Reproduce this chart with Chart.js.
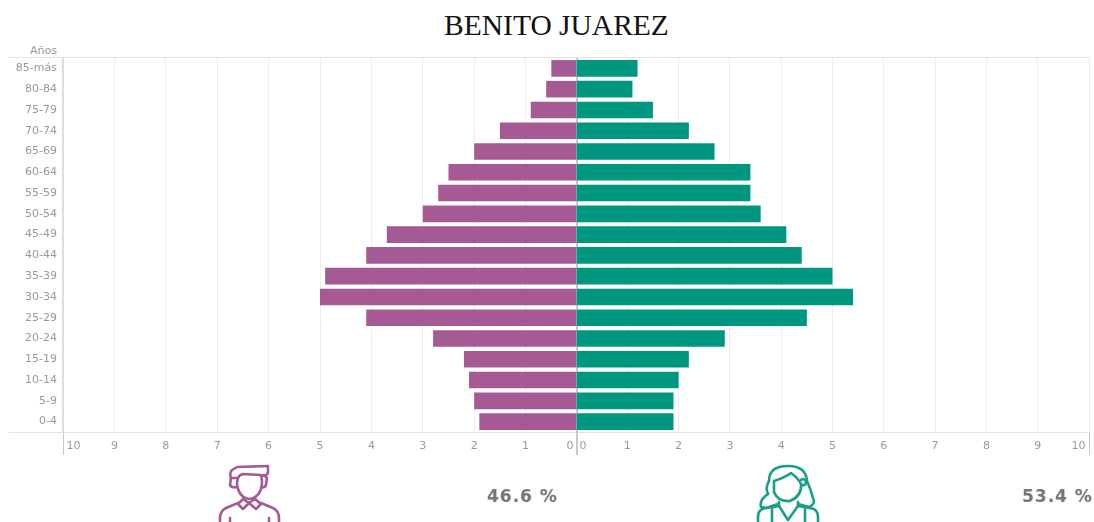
<!DOCTYPE html>
<html lang="es">
<head>
<meta charset="utf-8">
<title>BENITO JUAREZ</title>
<script src="https://cdn.jsdelivr.net/npm/chart.js@4"></script>
<style>
    html, body { margin: 0; width: 1094px; height: 522px; overflow: hidden; background: #fff; }
    .abs { position: absolute; }
    #title { left: 0; top: 9px; width: 1113px; text-align: center; font: 29.5px "Liberation Serif", serif; color: #111; }
    #years { left: 0; top: 44px; width: 57px; text-align: right; font: 11px "DejaVu Sans", sans-serif; color: #999; }
    .rule { left: 9px; width: 1081px; height: 1px; background: #e3e3e3; }
    .pct { top: 486px; font: bold 17px "DejaVu Sans", sans-serif; letter-spacing: 1px; color: #777; }
</style>
</head>
<body>
<div class="abs" id="title">BENITO JUAREZ</div>
<div class="abs" id="years">Años</div>
<div class="abs rule" style="top:57px"></div>
<div class="abs rule" style="top:432px"></div>

<div class="abs" style="left:0;top:58px;width:578px;height:402px"><canvas id="menChart"></canvas></div>
<div class="abs" style="left:576px;top:58px;width:518px;height:402px"><canvas id="womenChart"></canvas></div>

<!-- iconos hombre / mujer -->
<svg class="abs" style="left:210px;top:460px" width="80" height="62" viewBox="0 0 80 62" fill="none" stroke="#a55a94" stroke-width="2.6" stroke-linejoin="round" stroke-linecap="round">
    <path d="M28 18 L21 18 Q19 13 22 10 L27 7 L58 6 L58 13 Q56 17 50 15 L33 14 Q29 15 28 18 Z"/>
    <path d="M28 18 Q26 24 28 29 Q31 38 39 39 Q48 38 51 29 Q53 23 51 15"/>
    <path d="M21 18 L20 25 Q21 28 27 27 M54 15 L57 18 L56 25 Q55 28 51 27"/>
    <path d="M39 43 L33 39 L28 44 L33 49 Z M39 43 L45 39 L51 44 L46 49 Z"/>
    <path d="M28 43 L16 48 Q10 51 10 58 L10 70 M51 43 L63 48 Q69 51 69 58 L69 70 M20 58 L20 70 M59 58 L59 70"/>
</svg>
<svg class="abs" style="left:748px;top:460px" width="80" height="62" viewBox="0 0 80 62" fill="none" stroke="#1a9e88" stroke-width="2.6" stroke-linejoin="round" stroke-linecap="round">
    <path d="M20 34 Q17 28 21 21 Q21 6 40 6 Q58 6 59 21 Q63 30 65 38 Q68 44 61 47 L50 44"/>
    <path d="M20 34 Q11 40 13 47 L18 48 L30 44"/>
    <path d="M26 21 Q36 18 43 13 Q50 18 53 24 Q54 36 42 41 Q30 42 26 32 Z"/>
    <path d="M53 20 a3 3 0 1 1 1 5"/>
    <path d="M31 42 L31 46 L18 48 Q10 49 10 57 L10 70 M50 42 L50 46 L62 48 Q70 49 70 57 L70 70"/>
    <path d="M31 46 L40 60 L50 46 M24 48 L24 70 M57 48 L57 70"/>
</svg>

<div class="abs pct" style="left:487px">46.6 %</div>
<div class="abs pct" style="left:1022px">53.4 %</div>

<script>
const ageGroups = ["85-más", "80-84", "75-79", "70-74", "65-69", "60-64", "55-59", "50-54", "45-49",
    "40-44", "35-39", "30-34", "25-29", "20-24", "15-19", "10-14", "5-9", "0-4"];
const menValues = [0.5, 0.6, 0.9, 1.5, 2.0, 2.5, 2.7, 3.0, 3.7, 4.1, 4.9, 5.0, 4.1, 2.8, 2.2, 2.1, 2.0, 1.9];
const womenValues = [1.2, 1.1, 1.5, 2.2, 2.7, 3.4, 3.4, 3.6, 4.1, 4.4, 5.0, 5.4, 4.5, 2.9, 2.2, 2.0, 1.9, 1.9];
const axisMax = 10;

const tickFont = { family: "DejaVu Sans", size: 11 };
const NBSP = "\u00a0";

// Etiquetas de los extremos separadas de la linea del eje
function tickLabel(v, isLeft) {
    const n = Math.abs(v);
    if (n === 0) return isLeft ? n + NBSP : NBSP + n;
    if (n === axisMax) return isLeft ? NBSP + n : n + NBSP;
    return String(n);
}

// Eje horizontal comun: solo 0 y 10 llevan marca larga
function xAxis(isLeft) {
    return {
        min: isLeft ? -axisMax : 0,
        max: isLeft ? 0 : axisMax,
        border: { display: false },
        grid: {
            color: c => c.tick.value === 0 ? "#c8c8c8" : "#ededed",
            tickColor: c => (c.tick.value === 0 || Math.abs(c.tick.value) === axisMax) ? "#c8c8c8" : "transparent",
            tickLength: 23,
            lineWidth: 1
        },
        ticks: {
            stepSize: 1,
            color: "#999",
            font: tickFont,
            align: "inner",
            padding: -15,
            maxRotation: 0,
            autoSkip: false,
            callback: v => tickLabel(v, isLeft)
        },
        afterFit: s => { s.height = 28; }
    };
}

function pyramidSide(id, values, color, isLeft) {
    return new Chart(document.getElementById(id), {
        type: "bar",
        data: {
            labels: ageGroups,
            datasets: [{
                data: isLeft ? values.map(v => -v) : values,
                backgroundColor: color,
                categoryPercentage: 1,
                barPercentage: 0.8
            }]
        },
        options: {
            indexAxis: "y",
            responsive: true,
            maintainAspectRatio: false,
            animation: false,
            layout: { padding: isLeft ? { right: 1 } : { right: 5 } },
            plugins: { legend: { display: false }, tooltip: { enabled: false } },
            scales: {
                x: xAxis(isLeft),
                y: {
                    display: isLeft,
                    border: { color: "#ddd", width: 2 },
                    grid: { display: false, drawTicks: false },
                    ticks: { color: "#999", font: tickFont, padding: 6, autoSkip: false },
                    afterFit: s => {
                        if (isLeft) s.width = 63;
                        s.paddingTop = 0;
                        s.paddingBottom = 0;
                    }
                }
            }
        }
    });
}

pyramidSide("menChart", menValues, "#a55a94", true);
pyramidSide("womenChart", womenValues, "#009780", false);
</script>
</body>
</html>
